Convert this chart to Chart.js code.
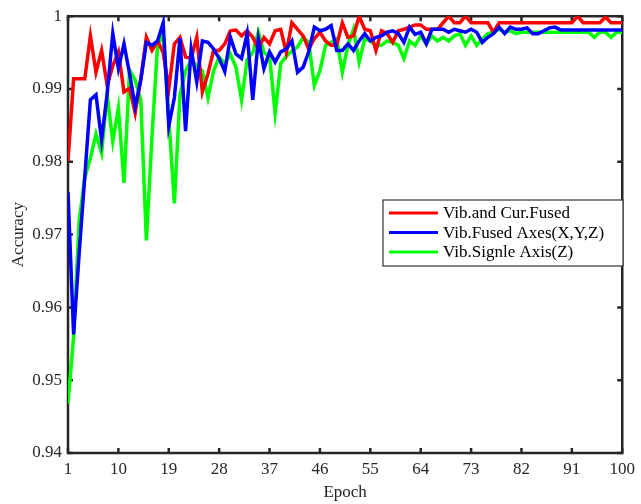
<!DOCTYPE html>
<html><head><meta charset="utf-8">
<script src="https://cdn.jsdelivr.net/npm/chart.js@4.4.1/dist/chart.umd.min.js"></script>
<style>html,body{margin:0;padding:0;background:#fff;}#wrap{width:641px;height:504px;position:relative;}</style>
</head><body><div id="wrap"><canvas id="c" width="641" height="504"></canvas></div>
<script>
const epochs = Array.from({length:100},(_,i)=>i+1);
const xTickValues = [1,10,19,28,37,46,55,64,73,82,91,100];
const yTickValues = [0.94,0.95,0.96,0.97,0.98,0.99,1];
const seriesNames = ['Vib.and Cur.Fused','Vib.Fused Axes(X,Y,Z)','Vib.Signle Axis(Z)'];
const seriesColors = ['#ff0000','#0000ff','#00ff00'];

const vibCurFused = [
0.9801,0.9914,0.9914,0.9914,0.9973,0.9923,0.9953,0.9905,0.9932,0.9951,
0.9896,0.9901,0.9867,0.9914,0.9971,0.9953,0.9966,0.9950,0.9900,0.9962,
0.9971,0.9944,0.9942,0.9971,0.9896,0.9921,0.9953,0.9953,0.9962,0.9980,
0.9981,0.9973,0.9980,0.9971,0.9955,0.9971,0.9962,0.9980,0.9982,0.9950,
0.9991,0.9982,0.9973,0.9955,0.9969,0.9978,0.9966,0.9960,0.9960,0.9991,
0.9971,0.9973,1.0000,0.9982,0.9980,0.9953,0.9980,0.9976,0.9964,0.9980,
0.9982,0.9985,0.9988,0.9988,0.9982,0.9982,0.9982,0.9991,1.0000,0.9991,
0.9991,1.0000,0.9991,0.9991,0.9991,0.9991,0.9978,0.9991,0.9991,0.9991,
0.9991,0.9991,0.9991,0.9991,0.9991,0.9991,0.9991,0.9991,0.9991,0.9991,
0.9991,1.0000,0.9991,0.9991,0.9991,0.9991,0.9999,0.9991,0.9991,0.9991];

const vibFusedAxes = [
0.9758,0.9563,0.9675,0.9780,0.9885,0.9892,0.9830,0.9894,0.9976,0.9928,
0.9962,0.9921,0.9876,0.9912,0.9964,0.9960,0.9966,0.9991,0.9849,0.9888,
0.9970,0.9842,0.9955,0.9910,0.9966,0.9964,0.9955,0.9942,0.9924,0.9971,
0.9948,0.9942,0.9976,0.9885,0.9969,0.9928,0.9951,0.9937,0.9951,0.9955,
0.9966,0.9923,0.9930,0.9951,0.9985,0.9980,0.9982,0.9987,0.9953,0.9953,
0.9962,0.9953,0.9966,0.9976,0.9966,0.9971,0.9973,0.9978,0.9980,0.9976,
0.9964,0.9985,0.9975,0.9978,0.9962,0.9982,0.9982,0.9982,0.9978,0.9982,
0.9980,0.9978,0.9982,0.9978,0.9964,0.9971,0.9976,0.9985,0.9976,0.9985,
0.9982,0.9982,0.9984,0.9976,0.9976,0.9980,0.9984,0.9985,0.9981,0.9981,
0.9981,0.9981,0.9981,0.9981,0.9981,0.9981,0.9981,0.9981,0.9981,0.9981];

const vibSingleAxis = [
0.9468,0.9560,0.9720,0.9778,0.9805,0.9838,0.9812,0.9892,0.9828,0.9874,
0.9771,0.9926,0.9912,0.9885,0.9692,0.9835,0.9960,0.9975,0.9860,0.9743,
0.9892,0.9925,0.9940,0.9932,0.9925,0.9888,0.9925,0.9944,0.9935,0.9948,
0.9930,0.9885,0.9940,0.9950,0.9978,0.9950,0.9945,0.9867,0.9935,0.9945,
0.9952,0.9958,0.9971,0.9964,0.9905,0.9925,0.9960,0.9964,0.9969,0.9923,
0.9960,0.9982,0.9937,0.9969,0.9966,0.9960,0.9960,0.9966,0.9964,0.9960,
0.9942,0.9966,0.9960,0.9973,0.9962,0.9973,0.9966,0.9971,0.9966,0.9973,
0.9976,0.9960,0.9973,0.9960,0.9969,0.9976,0.9978,0.9982,0.9978,0.9980,
0.9976,0.9978,0.9978,0.9978,0.9978,0.9978,0.9978,0.9978,0.9978,0.9978,
0.9978,0.9978,0.9978,0.9978,0.9971,0.9978,0.9978,0.9971,0.9978,0.9978];

const allSeries = [vibCurFused, vibFusedAxes, vibSingleAxis];
const drawOrder = [1, 0, 2];
const FONT = 'Liberation Serif, Times New Roman, serif';
const AXIS_COLOR = '#262626';

const framePlugin = {
  id: 'frame',
  beforeDatasetsDraw(chart) {
    const {ctx, chartArea: a, scales: {x, y}} = chart;
    ctx.save();
    ctx.strokeStyle = AXIS_COLOR;
    ctx.lineWidth = 2.5;
    ctx.strokeRect(a.left, a.top, a.right - a.left, a.bottom - a.top);
    const L = 5;
    ctx.beginPath();
    xTickValues.forEach(v => {
      const px = x.getPixelForValue(v);
      ctx.moveTo(px, a.bottom); ctx.lineTo(px, a.bottom - L);
      ctx.moveTo(px, a.top); ctx.lineTo(px, a.top + L);
    });
    yTickValues.forEach(v => {
      const py = y.getPixelForValue(v);
      ctx.moveTo(a.left, py); ctx.lineTo(a.left + L, py);
      ctx.moveTo(a.right, py); ctx.lineTo(a.right - L, py);
    });
    ctx.stroke();
    ctx.restore();
  }
};

const legendPlugin = {
  id: 'boxLegend',
  afterDatasetsDraw(chart) {
    const ctx = chart.ctx;
    const bx = 383, by = 200, bw = 240, bh = 66;
    ctx.save();
    ctx.fillStyle = '#ffffff';
    ctx.fillRect(bx, by, bw, bh);
    ctx.strokeStyle = '#333333';
    ctx.lineWidth = 1.2;
    ctx.strokeRect(bx, by, bw, bh);
    const rowY = [213, 232.5, 252];
    chart.data.datasets.forEach((ds, i) => {
      ctx.strokeStyle = ds.borderColor;
      ctx.lineWidth = 3.2;
      ctx.beginPath();
      ctx.moveTo(389, rowY[i]); ctx.lineTo(438, rowY[i]);
      ctx.stroke();
      ctx.fillStyle = '#000000';
      ctx.font = '17px ' + FONT;
      ctx.textBaseline = 'middle';
      ctx.textAlign = 'left';
      ctx.fillText(ds.label, 443, rowY[i] + 1);
    });
    ctx.restore();
  }
};

new Chart(document.getElementById('c'), {
  type: 'line',
  data: {
    datasets: allSeries.map((vals, i) => ({
      label: seriesNames[i],
      data: epochs.map((e, k) => ({x: e, y: vals[k]})),
      borderColor: seriesColors[i],
      backgroundColor: seriesColors[i],
      borderWidth: 3.5,
      pointRadius: 0,
      tension: 0,
      fill: false,
      order: drawOrder[i]
    }))
  },
  options: {
    responsive: false,
    animation: false,
    devicePixelRatio: 1,
    layout: {padding: {left: 0, right: 14, top: 12, bottom: 0}},
    plugins: {legend: {display: false}, tooltip: {enabled: false}},
    scales: {
      x: {
        type: 'linear', min: 1, max: 100,
        afterBuildTicks: s => { s.ticks = xTickValues.map(v => ({value: v})); },
        afterFit: s => { s.height = 51; },
        grid: {display: false, drawTicks: false},
        border: {display: false},
        ticks: {autoSkip: false, maxRotation: 0, padding: 6, color: '#262626',
                font: {family: FONT, size: 17}},
        title: {display: true, text: 'Epoch', color: '#262626',
                font: {family: FONT, size: 17}, padding: {top: 0, bottom: 1}}
      },
      y: {
        type: 'linear', min: 0.94, max: 1,
        afterBuildTicks: s => { s.ticks = yTickValues.map(v => ({value: v})); },
        afterFit: s => { s.width = 68; },
        grid: {display: false, drawTicks: false},
        border: {display: false},
        ticks: {padding: 6, color: '#262626', font: {family: FONT, size: 17},
                callback: v => (v === 1 ? '1' : Number(v).toFixed(2))},
        title: {display: true, text: 'Accuracy', color: '#262626',
                font: {family: FONT, size: 17}, padding: {top: 8, bottom: 0}}
      }
    }
  },
  plugins: [framePlugin, legendPlugin]
});
</script>
</body></html>
